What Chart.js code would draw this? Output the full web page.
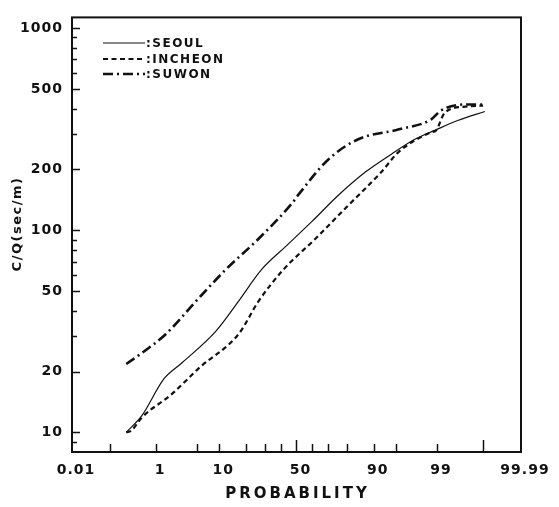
<!DOCTYPE html>
<html>
<head>
<meta charset="utf-8">
<script src="https://cdn.jsdelivr.net/npm/chart.js@4.4.1/dist/chart.umd.min.js"></script>
<style>
  html, body { margin: 0; padding: 0; background: #fff; }
  #wrap { width: 559px; height: 507px; }
</style>
</head>
<body>
<div id="wrap"><canvas id="myChart"></canvas></div>
<script>
'use strict';

//// Data (probability in %, C/Q in sec/m)
const seoulProb = [0.24, 0.52, 1.4, 2.9, 9.1, 16.9, 28.2, 42.8, 59.8, 75.6, 87.3, 94.2, 97.5, 98.9, 99.62, 99.91];
const seoulCQ   = [10, 12.1, 18.4, 22.1, 31.7, 44.6, 64, 83, 110, 149, 194, 238, 282, 312, 349, 387];

const incheonProb = [0.24, 0.31, 0.52, 1.96, 5.3, 16.9, 26.5, 41.5, 62.3, 80.5, 92.0, 95.4, 98.7, 98.96, 99.3, 99.74, 99.9];
const incheonCQ   = [10, 10.2, 11.85, 15.5, 20.8, 30.7, 44.6, 64, 90.8, 133, 194, 243, 305, 312, 382, 409, 414];

const suwonProb = [0.24, 0.52, 1.53, 4.8, 12.1, 26.5, 46.7, 51.3, 70.1, 84.7, 95.4, 98.7, 99.16, 99.74, 99.9];
const suwonCQ   = [21.8, 24.7, 30.7, 44.6, 64, 90.8, 135, 150, 224, 282, 315, 353, 391, 419, 419];

//// Tick marks
const xTickProbs = [0.01, 0.1, 1, 5, 10, 20, 30, 40, 50, 60, 70, 80, 90, 95, 99, 99.9, 99.99];
const xTickLabels = [0.01, 1, 10, 50, 90, 99, 99.99];
const xTallTicks = [50, 99.9];
const yTickValues = [9, 10, 20, 30, 40, 50, 60, 70, 80, 90, 100, 200, 300, 400, 500, 600, 700, 800, 900, 1000];
const yTickLabels = [10, 20, 50, 100, 200, 500, 1000];

const INK = '#111';
const FONT = "'DejaVu Sans', sans-serif";

// inverse normal cdf (Acklam) -> probability paper axis
function probit(p) {
    const a = [-3.969683028665376e+01, 2.209460984245205e+02, -2.759285104469687e+02, 1.383577518672690e+02, -3.066479806614716e+01, 2.506628277459239e+00];
    const b = [-5.447609879822406e+01, 1.615858368580409e+02, -1.556989798598866e+02, 6.680131188771972e+01, -1.328068155288572e+01];
    const c = [-7.784894002430293e-03, -3.223964580411365e-01, -2.400758277161838e+00, -2.549732539343734e+00, 4.374664141464968e+00, 2.938163982698783e+00];
    const d = [7.784695709041462e-03, 3.224671290700398e-01, 2.445134137142996e+00, 3.754408661907416e+00];
    const pl = 0.02425;
    let q, r;
    if (p < pl) {
        q = Math.sqrt(-2 * Math.log(p));
        return (((((c[0]*q+c[1])*q+c[2])*q+c[3])*q+c[4])*q+c[5]) / ((((d[0]*q+d[1])*q+d[2])*q+d[3])*q+1);
    }
    if (p > 1 - pl) {
        q = Math.sqrt(-2 * Math.log(1 - p));
        return -(((((c[0]*q+c[1])*q+c[2])*q+c[3])*q+c[4])*q+c[5]) / ((((d[0]*q+d[1])*q+d[2])*q+d[3])*q+1);
    }
    q = p - 0.5; r = q * q;
    return (((((a[0]*r+a[1])*r+a[2])*r+a[3])*r+a[4])*r+a[5])*q / (((((b[0]*r+b[1])*r+b[2])*r+b[3])*r+b[4])*r+1);
}

const toPoints = (probs, vals) => probs.map((p, i) => ({ x: probit(p / 100), y: vals[i] }));

//// frame + inward tick marks, axis titles, legend
const paperPlugin = {
    id: 'paper',
    beforeDraw(chart) {
        chart.ctx.letterSpacing = '1px';
    },
    afterDatasetsDraw(chart) {
        const { ctx, chartArea: a, scales: { x, y } } = chart;
        ctx.save();
        ctx.strokeStyle = INK;
        ctx.lineWidth = 2;
        ctx.strokeRect(a.left, a.top, a.right - a.left, a.bottom - a.top);

        ctx.lineWidth = 1.5;
        ctx.beginPath();
        y.ticks.forEach(t => {
            const py = Math.round(y.getPixelForValue(t.value)) + 0.5;
            const len = yTickLabels.includes(t.value) ? 8 : 5;
            ctx.moveTo(a.left, py);
            ctx.lineTo(a.left + len, py);
        });
        x.ticks.forEach((t, i) => {
            const p = xTickProbs[i];
            if (p === 0.01 || p === 99.99) return;
            const px = Math.round(x.getPixelForValue(t.value)) + 0.5;
            const len = xTallTicks.includes(p) ? 12 : 8;
            ctx.moveTo(px, a.bottom);
            ctx.lineTo(px, a.bottom - len);
        });
        ctx.stroke();

        // axis titles
        ctx.fillStyle = INK;
        ctx.textAlign = 'center';
        ctx.textBaseline = 'middle';
        ctx.font = 'bold 15px ' + FONT;
        ctx.letterSpacing = '3px';
        ctx.fillText('PROBABILITY', (a.left + a.right) / 2 + 1, 494);
        ctx.save();
        ctx.translate(18, 224);
        ctx.rotate(-Math.PI / 2);
        ctx.font = 'bold 13px ' + FONT;
        ctx.letterSpacing = '1.5px';
        ctx.fillText('C/Q(sec/m)', 0, 0);
        ctx.restore();

        // legend
        ctx.textAlign = 'left';
        ctx.font = 'bold 12px ' + FONT;
        ctx.letterSpacing = '1.5px';
        const rows = [43, 59, 74];
        chart.data.datasets.forEach((ds, i) => {
            const ly = rows[i];
            ctx.save();
            ctx.lineWidth = ds.borderWidth;
            ctx.setLineDash(ds.borderDash || []);
            ctx.beginPath();
            ctx.moveTo(103, ly);
            ctx.lineTo(145, ly);
            ctx.stroke();
            ctx.restore();
            ctx.fillText(':' + ds.label, 146, ly + 1);
        });
        ctx.restore();
    }
};

const ctx = document.getElementById('myChart').getContext('2d');

const chart = new Chart(ctx, {
    type: 'line',
    data: {
        datasets: [{
                label: 'SEOUL',
                data: toPoints(seoulProb, seoulCQ),
                borderColor: INK,
                borderWidth: 1.2,
                borderDash: [],
        },
            {
                label: 'INCHEON',
                data: toPoints(incheonProb, incheonCQ),
                borderColor: INK,
                borderWidth: 2.2,
                borderDash: [5, 3.5],
        },
            {
                label: 'SUWON',
                data: toPoints(suwonProb, suwonCQ),
                borderColor: INK,
                borderWidth: 2.6,
                borderDash: [10, 4, 2, 4],
        }]
    },
    options: {
        responsive: true,
        maintainAspectRatio: false,
        animation: false,
        layout: { padding: { top: 13, right: 38, bottom: 0, left: 0 } },
        elements: {
            point: { radius: 0 },
            line: { cubicInterpolationMode: 'monotone', fill: false }
        },
        plugins: {
            legend: { display: false },
            tooltip: { enabled: false }
        },
        scales: {
            x: {
                type: 'linear',
                min: probit(0.0001),
                max: probit(0.9999),
                grid: { display: false, drawTicks: false },
                border: { display: false },
                afterBuildTicks: scale => {
                    scale.ticks = xTickProbs.map(p => ({ value: probit(p / 100) }));
                },
                afterFit: scale => { scale.height = 55; },
                ticks: {
                    autoSkip: false,
                    maxRotation: 0,
                    padding: 10,
                    labelOffset: 4,
                    color: INK,
                    font: { family: FONT, size: 14, weight: 'bold' },
                    callback: (value, index) => {
                        const p = xTickProbs[index];
                        return xTickLabels.includes(p) ? String(p) : '';
                    }
                }
            },
            y: {
                type: 'logarithmic',
                min: 8,
                max: 1130,
                grid: { display: false, drawTicks: false },
                border: { display: false },
                afterBuildTicks: scale => {
                    scale.ticks = yTickValues.map(v => ({ value: v }));
                },
                afterFit: scale => { scale.width = 72; },
                ticks: {
                    autoSkip: false,
                    padding: 9,
                    color: INK,
                    font: { family: FONT, size: 14, weight: 'bold' },
                    callback: value => yTickLabels.includes(value) ? String(value) : ''
                }
            }
        }
    },
    plugins: [paperPlugin]
});
</script>
</body>
</html>
